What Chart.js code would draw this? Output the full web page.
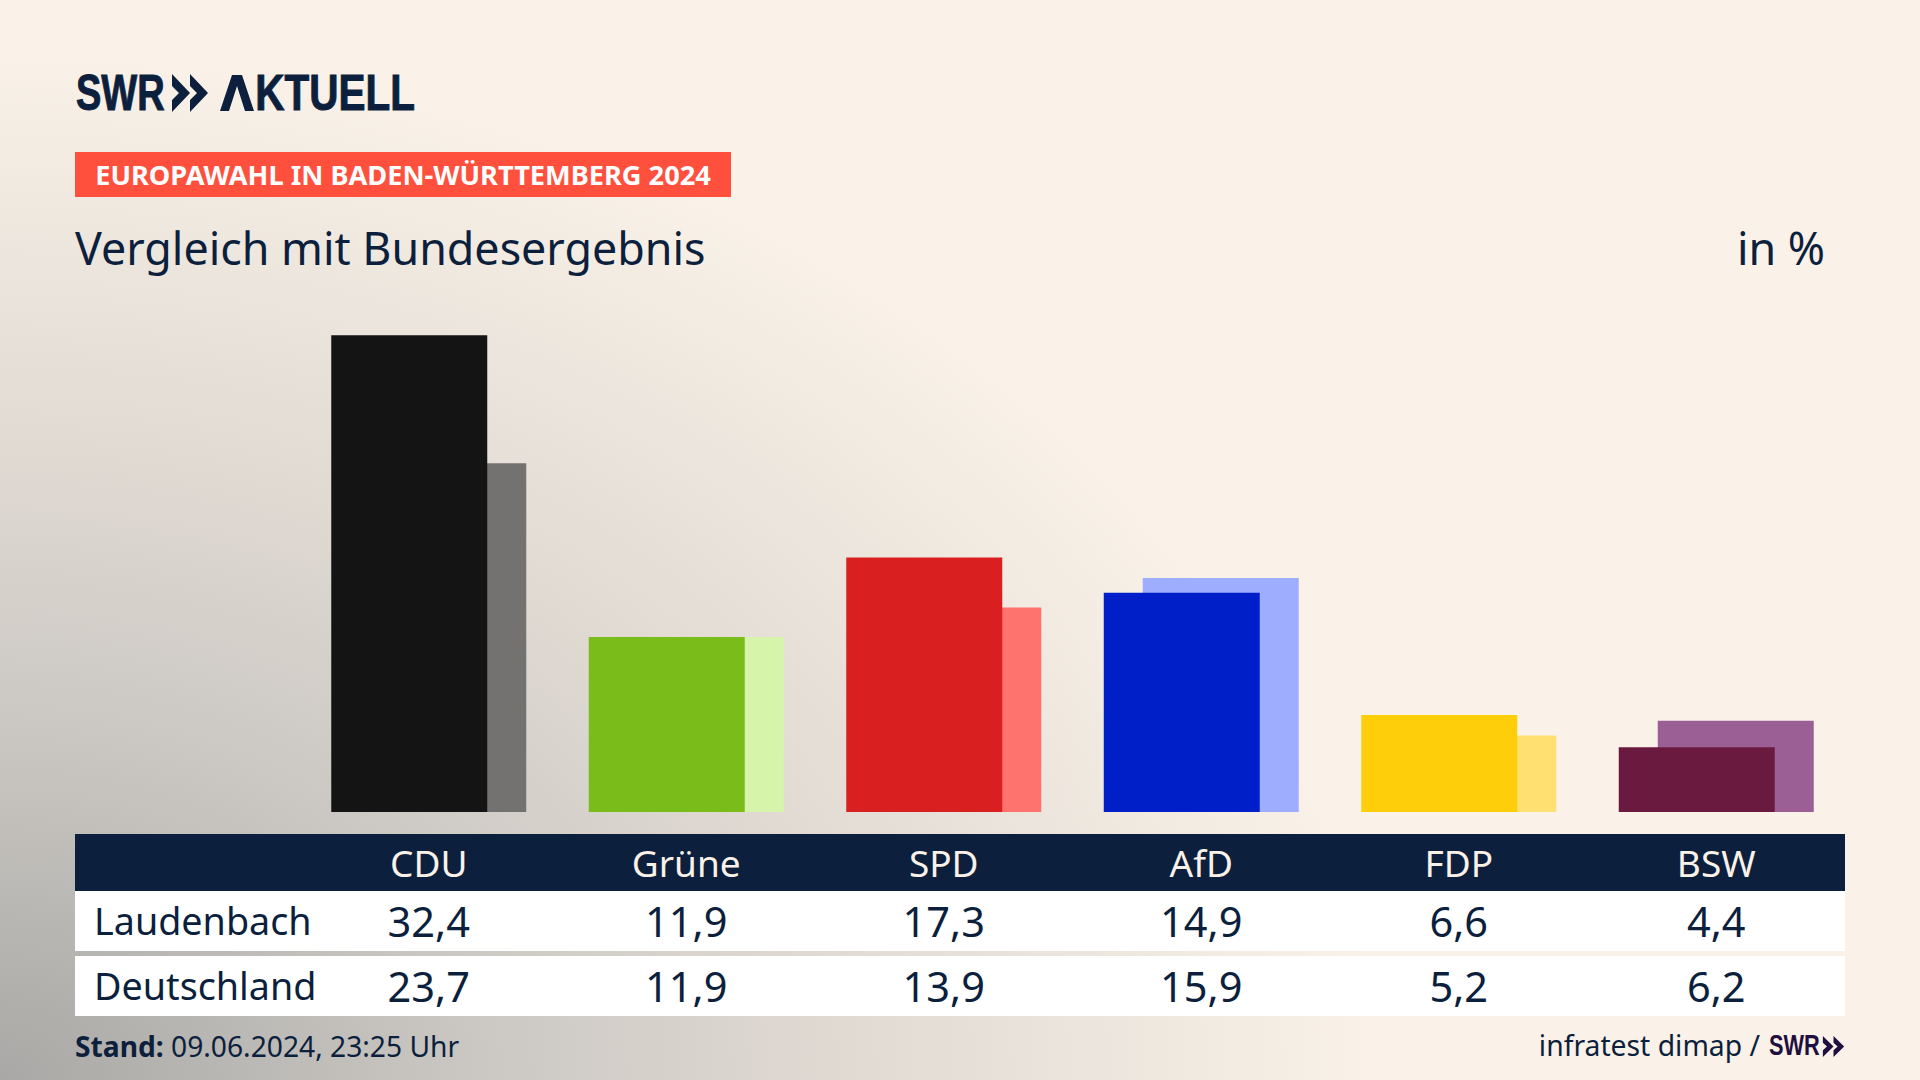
<!DOCTYPE html>
<html lang="de">
<head>
<meta charset="utf-8">
<title>Europawahl Laudenbach</title>
<script src="https://cdn.jsdelivr.net/npm/chart.js@4"></script>
<style>
  html, body { margin: 0; padding: 0; }
  body {
    width: 1920px; height: 1080px; position: relative; overflow: hidden;
    background-color: #faf2e8;
    background-image: radial-gradient(ellipse 1500px 1120px at 0px 1080px, #a9a8a6 0%, #c9c6c1 30%, #dfd9d2 55%, #faf2e8 92%);
    font-family: "Noto Sans", sans-serif; color: #0c1f3d;
  }
  .abs { position: absolute; white-space: nowrap; }
  #chartBox { position: absolute; left: 300px; top: 297px; width: 1545px; height: 515px; }
  .logoText { font: bold 50px/60px "Liberation Sans", sans-serif; transform-origin: left center; -webkit-text-stroke: 1px #0c1f3d; }
  #logoSwr { left: 76px; top: 63px; transform: scaleX(0.76); }
  #logoAkt { left: 226px; top: 63px; transform: scaleX(0.81); }
  #logoArrows { left: 171px; top: 74px; }
  #logoA { left: 220px; top: 75px; }
  #badge { left: 75px; top: 152px; width: 656px; height: 45px; background: #ff4f3d; color: #fff;
           font: bold 27.2px/45px "Noto Sans", sans-serif; text-align: center; }
  #title { left: 75px; top: 218px; font-size: 44.8px; line-height: 60px; }
  #unit { right: 95px; top: 218px; font-size: 44.8px; line-height: 60px; }
  .band { position: absolute; left: 75px; width: 1770px; }
  .cell { position: absolute; width: 257.5px; text-align: center; }
  .name { position: absolute; left: 19px; font-size: 37.7px; }
  #stand { left: 75px; top: 1027px; font-size: 28.2px; line-height: 38px; }
  #source { right: 160px; top: 1026px; font-size: 28.3px; line-height: 38px; }
  #swrSmall { left: 1769px; top: 1026px; font: bold 29px/38px "Liberation Sans", sans-serif; color: #1f0f3f;
              transform: scaleX(0.75); transform-origin: left center; }
</style>
</head>
<body>
<div class="abs logoText" id="logoSwr">SWR</div>
<svg class="abs" id="logoArrows" width="38" height="38" viewBox="0 0 38 38"><path fill="#0c1f3d" d="M1 0 L19 19 L1 38 L1 26 L8 19 L1 12 Z M19 0 L37 19 L19 38 L19 26 L26 19 L19 12 Z"/></svg>
<div class="abs logoText" id="logoAkt"><span style="color:transparent;-webkit-text-stroke:0">A</span>KTUELL</div>
<svg class="abs" id="logoA" width="34" height="36" viewBox="0 0 34 36"><path fill="#0c1f3d" d="M0 36 L12 0 L22 0 L34 36 L25 36 L17 11 L9 36 Z"/></svg>
<div class="abs" id="badge">EUROPAWAHL IN BADEN-WÜRTTEMBERG 2024</div>
<div class="abs" id="title">Vergleich mit Bundesergebnis</div>
<div class="abs" id="unit">in %</div>
<div id="chartBox"><canvas id="myChart" width="1545" height="515"></canvas></div>
<div id="table"></div>
<div class="abs" id="stand"><b>Stand:</b> 09.06.2024, 23:25 Uhr</div>
<div class="abs" id="source">infratest dimap /</div>
<div class="abs" id="swrSmall">SWR<svg width="30" height="21" viewBox="0 0 38 38" preserveAspectRatio="none" style="margin-left:3px;vertical-align:-2px"><path fill="#1f0f3f" d="M1 0 L19 19 L1 38 L1 26 L8 19 L1 12 Z M19 0 L37 19 L19 38 L19 26 L26 19 L19 12 Z"/></svg></div>
<script>
const parties = ['CDU', 'Grüne', 'SPD', 'AfD', 'FDP', 'BSW'];
const laudenbach = [32.4, 11.9, 17.3, 14.9, 6.6, 4.4];
const deutschland = [23.7, 11.9, 13.9, 15.9, 5.2, 6.2];
const darkColors = ['#141414', '#7abd1a', '#d91f1f', '#001fc8', '#ffce0a', '#6b1a3f'];
const lightColors = ['#737270', '#d6f5ab', '#ff736e', '#9fadff', '#ffe070', '#9b5f96'];
const rowNames = ['Laudenbach', 'Deutschland'];

const ctx = document.getElementById('myChart').getContext('2d');
new Chart(ctx, {
  type: 'bar',
  data: {
    labels: parties,
    datasets: [
      { label: 'Laudenbach', data: laudenbach, backgroundColor: darkColors },
      { label: 'Deutschland', data: deutschland, backgroundColor: lightColors }
    ]
  },
  options: {
    responsive: false,
    animation: false,
    // bars overlap: each slot is 39px wide, bar is 4 slots = 156px
    categoryPercentage: 78 / 257.5,
    barPercentage: 4,
    plugins: { legend: { display: false }, tooltip: { enabled: false } },
    scales: {
      x: { display: false },
      y: { display: false, min: 0, max: 35 }
    }
  }
});

// table under the chart
const table = document.getElementById('table');
function addBand(top, height, bg, color, fontSize, texts, name) {
  const band = document.createElement('div');
  band.className = 'band';
  band.style.cssText = `top:${top}px;height:${height}px;background:${bg};color:${color};line-height:${height}px;font-size:${fontSize}px`;
  if (name) {
    const n = document.createElement('div');
    n.className = 'name';
    n.textContent = name;
    band.appendChild(n);
  }
  texts.forEach((t, i) => {
    const c = document.createElement('div');
    c.className = 'cell';
    c.style.left = (225 + i * 257.5) + 'px';
    c.textContent = t;
    band.appendChild(c);
  });
  table.appendChild(band);
}
const fmt = v => v.toFixed(1).replace('.', ',');
addBand(834, 57, '#0c1f3d', '#faf2e8', 37, parties);
addBand(891, 60, '#fff', '#0c1f3d', 41.5, laudenbach.map(fmt), rowNames[0]);
addBand(956, 60, '#fff', '#0c1f3d', 41.5, deutschland.map(fmt), rowNames[1]);
</script>
</body>
</html>
